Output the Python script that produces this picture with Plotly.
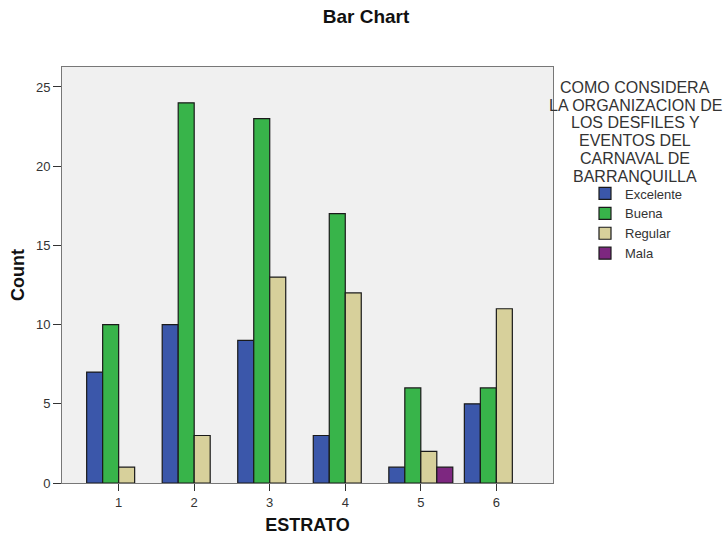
import plotly.graph_objects as go

estratos = [1, 2, 3, 4, 5, 6]
excelente = [7, 10, 9, 3, 1, 5]
buena = [10, 24, 23, 17, 6, 6]
regular = [1, 3, 13, 12, 2, 11]
mala = [None, None, None, None, 1, None]

legend_title_lines = ["COMO CONSIDERA", "LA ORGANIZACION DE", "LOS DESFILES Y",
                      "EVENTOS DEL", "CARNAVAL DE", "BARRANQUILLA"]

series = [
    ("Excelente", excelente, "#3B57AA"),
    ("Buena", buena, "#38B44A"),
    ("Regular", regular, "#D7D09B"),
    ("Mala", mala, "#7D2780"),
]

fig = go.Figure()
for name, vals, col in series:
    fig.add_trace(go.Bar(
        x=estratos, y=vals, name=name,
        marker=dict(color=col, line=dict(color="#1a1a1a", width=1.2)),
    ))

font = "Liberation Sans, Arial, sans-serif"

W, H = 726, 540
L, R, T, B = 62, 173, 67, 57
plot_w = W - L - R
plot_h = H - T - B

def paper_y(screen_y):
    return (H - B - screen_y) / plot_h

def paper_x(screen_x):
    return (screen_x - L) / plot_w

ann = []
line_y = [87.5, 105, 122.5, 140, 158, 176]
for txt, sy in zip(legend_title_lines, line_y):
    ann.append(dict(text=txt, xref="paper", yref="paper",
                    x=paper_x(635), y=paper_y(sy),
                    xanchor="center", yanchor="middle", showarrow=False,
                    font=dict(size=16, color="#333333", family=font)))

fig.update_layout(
    width=W, height=H,
    margin=dict(l=L, r=R, t=T, b=B, autoexpand=False),
    paper_bgcolor="white",
    plot_bgcolor="#F0F0F0",
    barmode="group",
    bargap=0.153,
    bargroupgap=0,
    font=dict(family=font, color="#333333", size=13),
    title=dict(text="<b>Bar Chart</b>", x=366 / W, xanchor="center",
               y=1 - 16 / H, yanchor="middle",
               font=dict(size=19, color="#111111")),
    showlegend=True,
    annotations=ann,
    legend=dict(
        x=paper_x(585), xanchor="left", y=paper_y(178.5), yanchor="top",
        bgcolor="rgba(0,0,0,0)",
        font=dict(size=13, color="#333333"),
        itemwidth=30,
    ),
    xaxis=dict(
        range=[0.25, 6.75], tickmode="array", tickvals=estratos, ticktext=[str(e) for e in estratos],
        ticks="outside", ticklen=7, tickcolor="#333333",
        showline=True, linecolor="#777777", linewidth=1, mirror=True,
        showgrid=False, zeroline=False, tickfont=dict(size=13),
        title=dict(text="<b>ESTRATO</b>", font=dict(size=18, color="#111111"), standoff=9),
    ),
    yaxis=dict(
        range=[0, 26.26], tickvals=[0, 5, 10, 15, 20, 25],
        ticks="outside", ticklen=8, tickcolor="#333333",
        showline=True, linecolor="#777777", linewidth=1, mirror=True,
        showgrid=False, zeroline=False, tickfont=dict(size=13),
        title=dict(text="<b>Count</b>", font=dict(size=18, color="#111111"), standoff=6),
    ),
)

fig.write_html("out.html", config={"displayModeBar": False},
               post_script="document.body.style.margin='0';")
